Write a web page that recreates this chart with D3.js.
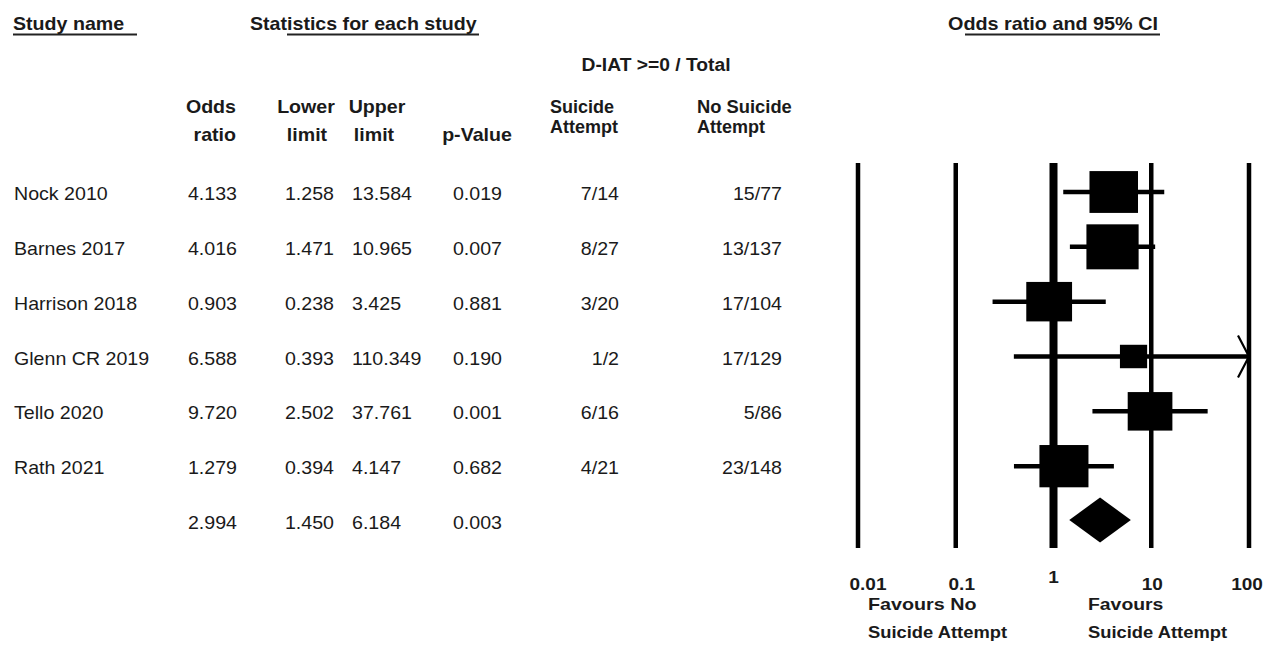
<!DOCTYPE html>
<html>
<head>
<meta charset="utf-8">
<script src="https://cdn.jsdelivr.net/npm/d3@7/dist/d3.min.js"></script>
<style>
  html, body { margin: 0; padding: 0; background: #fff; }
  svg { display: block; }
  text { font-family: "Liberation Sans", Arial, Helvetica, sans-serif; fill: #1a1a1a; }
</style>
</head>
<body>
<svg id="chart" width="1269" height="645"></svg>
<script>
// ---------------- DATA ----------------
const studies = ["Nock 2010", "Barnes 2017", "Harrison 2018", "Glenn CR 2019", "Tello 2020", "Rath 2021"];
const oddsRatio = [4.133, 4.016, 0.903, 6.588, 9.720, 1.279];
const lowerLimit = [1.258, 1.471, 0.238, 0.393, 2.502, 0.394];
const upperLimit = [13.584, 10.965, 3.425, 110.349, 37.761, 4.147];
const pValue = [0.019, 0.007, 0.881, 0.190, 0.001, 0.682];
const suicideAttempt = ["7/14", "8/27", "3/20", "1/2", "6/16", "4/21"];
const noSuicideAttempt = ["15/77", "13/137", "17/104", "17/129", "5/86", "23/148"];
// relative weights
const relWeight = [19.1, 22.1, 17.0, 6.0, 16.2, 19.5];
// summary: odds ratio, lower, upper, p
const summaryStats = [2.994, 1.450, 6.184, 0.003];
const tickValues = [0.01, 0.1, 1, 10, 100];
const tickLabels = ["0.01", "0.1", "1", "10", "100"];

// ---------------- DRAW ----------------
const svg = d3.select("#chart");
const fmt = d3.format(".3f");
const SX = 1.09;

function txt(x, y, s, opt = {}) {
  const t = svg.append("text")
    .attr("transform", `translate(${x},${y}) scale(${opt.sx || SX},1)`)
    .attr("text-anchor", opt.anchor || "start")
    .style("font-size", (opt.size || 18) + "px")
    .style("font-weight", opt.bold ? "bold" : "normal")
    .text(s);
  return t;
}
function uline(x1, x2, y) {
  svg.append("line").attr("x1", x1).attr("x2", x2).attr("y1", y).attr("y2", y)
    .attr("stroke", "#222").attr("stroke-width", 1.8);
}

// Titles
txt(13, 30, "Study name", { bold: true });
uline(13, 137, 34.5);
txt(250, 30, "Statistics for each study", { bold: true });
uline(287, 479, 34.5);
txt(948, 30, "Odds ratio and 95% CI", { bold: true, sx: 1.1 });
uline(965, 1160, 34.5);

txt(656, 71, "D-IAT >=0 / Total", { bold: true, anchor: "middle", sx: 1.07 });

// Column headers
txt(236, 113, "Odds", { bold: true, anchor: "end" });
txt(236, 141, "ratio", { bold: true, anchor: "end" });
txt(306, 113, "Lower", { bold: true, anchor: "middle" });
txt(307, 141, "limit", { bold: true, anchor: "middle" });
txt(377, 113, "Upper", { bold: true, anchor: "middle" });
txt(374, 141, "limit", { bold: true, anchor: "middle" });
txt(477, 141, "p-Value", { bold: true, anchor: "middle" });
txt(550, 113, "Suicide", { bold: true, sx: 1.0 });
txt(550, 133, "Attempt", { bold: true, sx: 1.0 });
txt(697, 113, "No Suicide", { bold: true, sx: 1.02 });
txt(697, 133, "Attempt", { bold: true, sx: 1.0 });

// Scales
const rows = d3.range(studies.length + 1);
const y = d3.scalePoint().domain(rows).range([192, 521]);
const x = d3.scaleLog().domain([0.01, 100]).range([858, 1249]);
const boxH = d3.scaleSqrt().domain([0, d3.max(relWeight)]).range([0, 45]);
const ASPECT = 1.16;

// Table rows
studies.forEach((s, i) => {
  const yy = y(i) + 8;
  txt(14, yy, s);
  txt(237, yy, fmt(oddsRatio[i]), { anchor: "end" });
  txt(334, yy, fmt(lowerLimit[i]), { anchor: "end" });
  txt(352, yy, fmt(upperLimit[i]));
  txt(502, yy, fmt(pValue[i]), { anchor: "end" });
  txt(619, yy, suicideAttempt[i], { anchor: "end" });
  txt(782, yy, noSuicideAttempt[i], { anchor: "end" });
});
{
  const i = studies.length;
  const yy = y(i) + 8;
  txt(237, yy, fmt(summaryStats[0]), { anchor: "end" });
  txt(334, yy, fmt(summaryStats[1]), { anchor: "end" });
  txt(352, yy, fmt(summaryStats[2]));
  txt(502, yy, fmt(summaryStats[3]), { anchor: "end" });
}

// Vertical reference lines
const plot = svg.append("g");
plot.selectAll("line.ref").data(tickValues).enter().append("line")
  .attr("class", "ref")
  .attr("x1", d => x(d)).attr("x2", d => x(d))
  .attr("y1", 163).attr("y2", 548)
  .attr("stroke", "#000")
  .attr("stroke-width", d => d === 1 ? 8 : 4.5);

// Tick labels
const nudge = { "0.01": 10, "0.1": 6, "1": 0, "10": 1, "100": -2 };
tickValues.forEach((v, k) => {
  const lab = tickLabels[k];
  txt(x(v) + nudge[lab], lab === "1" ? 583 : 590, lab, { bold: true, anchor: "middle", size: 17, sx: 1.12 });
});

// CI lines
const [xmin, xmax] = x.domain();
studies.forEach((s, i) => {
  const lo = Math.max(lowerLimit[i], xmin), hi = Math.min(upperLimit[i], xmax);
  plot.append("line")
    .attr("x1", x(lo)).attr("x2", x(hi))
    .attr("y1", y(i)).attr("y2", y(i))
    .attr("stroke", "#000").attr("stroke-width", 4.5);
  if (upperLimit[i] > xmax) {
    const ax = x(xmax), ay = y(i);
    plot.append("path")
      .attr("d", `M${ax - 11},${ay - 21} L${ax},${ay} L${ax - 11},${ay + 21}`)
      .attr("fill", "none").attr("stroke", "#000").attr("stroke-width", 2.2);
  }
});

// Weighted squares
studies.forEach((s, i) => {
  const h = boxH(relWeight[i]), w = h * ASPECT;
  plot.append("rect")
    .attr("x", x(oddsRatio[i]) - w / 2).attr("y", y(i) - h / 2)
    .attr("width", w).attr("height", h)
    .attr("fill", "#000");
});

// Summary diamond
{
  const i = studies.length, cy = y(i) - 1, hh = 22.5;
  plot.append("path")
    .attr("d", `M${x(summaryStats[1])},${cy} L${x(summaryStats[0])},${cy - hh} L${x(summaryStats[2])},${cy} L${x(summaryStats[0])},${cy + hh} Z`)
    .attr("fill", "#000");
}

// Favours labels
txt(868, 610, "Favours No", { bold: true, size: 17, sx: 1.16 });
txt(868, 638, "Suicide Attempt", { bold: true, size: 17, sx: 1.08 });
txt(1088, 610, "Favours", { bold: true, size: 17, sx: 1.14 });
txt(1088, 638, "Suicide Attempt", { bold: true, size: 17, sx: 1.08 });
</script>
</body>
</html>
